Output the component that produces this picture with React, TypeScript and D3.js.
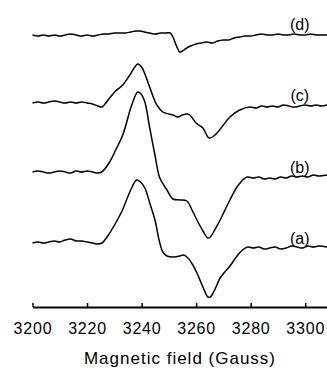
import React, { useEffect, useRef } from "react";
import * as d3 from "d3";

// EPR spectra, field in Gauss, intensity in arbitrary units relative to each baseline
const traceA: [number, number][] = [
  [3200, 0], [3202, 1], [3204, 0], [3206, 1], [3208, 2], [3210, 1], [3212, 3], [3214, 4],
  [3216, 2], [3218, 2], [3220, 1], [3222, 0], [3224, -1], [3225.5, 0], [3228.3, 10],
  [3230.5, 20], [3233, 33], [3236, 53], [3238.2, 63], [3239.6, 61], [3241.2, 55], [3243, 40],
  [3245, 22], [3246.5, 2], [3247.8, -9], [3249.3, -13], [3252, -14], [3254, -13], [3255.5, -12],
  [3257, -15], [3258.8, -22], [3260.3, -30], [3262.5, -44], [3264.3, -54], [3265.2, -54],
  [3266.8, -47], [3268.8, -35], [3270.5, -29], [3272.4, -23], [3275, -13], [3277, -7],
  [3279, -4], [3281, -5], [3283, -4], [3285, -6], [3287, -5], [3289, -4], [3291, -6],
  [3293, -5], [3295, -3], [3297, -4], [3299, -5], [3301, -3], [3303, -4], [3305, -3], [3308, -4],
];

const traceB: [number, number][] = [
  [3200, 0], [3202, 1], [3204, 0], [3206, -1], [3208, 0], [3210, 1], [3212, 0], [3214, -1],
  [3216, 1], [3218, 0], [3220, 1], [3222, 0], [3224, -1], [3225.4, 0], [3228.3, 10],
  [3230.5, 22], [3233.1, 37], [3236.4, 67], [3238.6, 80], [3239.8, 78], [3241.2, 70],
  [3243, 44], [3244.9, 17], [3246.7, -6], [3249.3, -18], [3251.5, -27], [3254, -28],
  [3256.6, -29], [3258.5, -38], [3260.3, -48], [3262.5, -59], [3264.3, -66], [3265.2, -65],
  [3267, -57], [3268.8, -48], [3272.4, -28], [3275.5, -13], [3278.7, -5], [3281, -6],
  [3283, -5], [3285, -7], [3287, -6], [3289, -7], [3291, -5], [3293, -6], [3295, -4],
  [3297, -5], [3299, -4], [3301, -5], [3303, -3], [3305, -4], [3308, -3],
];

const traceC: [number, number][] = [
  [3200, 0], [3202, 1], [3204, 0], [3206, 1], [3208, 2], [3210, 1], [3212, 0], [3214, 1],
  [3216, 0], [3218, 1], [3220, 0], [3222, -1], [3224, -3], [3225.4, -4], [3228.3, 5],
  [3230.5, 12], [3233.1, 18], [3235.7, 28], [3238.6, 39], [3240, 36], [3242.3, 21], [3244, 8],
  [3245.6, -2], [3247.8, -9], [3250, -11], [3251.5, -12], [3253.3, -14], [3255, -12],
  [3256.6, -11], [3257.7, -12], [3260, -20], [3262.5, -25], [3264.3, -34], [3265.1, -35],
  [3266.5, -33], [3268, -29], [3270, -22], [3272.4, -14], [3276, -7], [3279.8, -4],
  [3282, -5], [3284, -3], [3286, -4], [3288, -3], [3290, -4], [3292, -2], [3294, -3],
  [3296, -4], [3298, -3], [3300, -2], [3302, -3], [3304, -2], [3306, -3], [3308, -2],
];

const traceD: [number, number][] = [
  [3200, 0], [3202, -1], [3204, 0], [3206, -1], [3208, 0], [3210, -1], [3212, 0], [3214, 1],
  [3216, 0], [3218, -1], [3220, 0], [3222, -1], [3224, 0], [3226, 1], [3228, 1], [3230, 2],
  [3232, 2], [3234, 2], [3236, 3], [3238, 4], [3239.5, 4], [3241, 3], [3243, 2], [3245, 1],
  [3247, 2], [3249, 2], [3250.5, 2], [3251.5, -2], [3252.5, -9], [3253.3, -14], [3254, -17],
  [3255, -16], [3256, -14], [3258, -11], [3260, -9], [3262, -8], [3264, -7], [3266, -8],
  [3268, -6], [3270, -5], [3272, -5], [3274, -3], [3276, -2], [3278, -1], [3280, -1],
  [3282, 0], [3284, 1], [3286, 0], [3288, 0], [3290, 1], [3292, 0], [3294, 0], [3296, 1],
  [3298, 0], [3300, 0], [3302, 1], [3304, 0], [3306, 0], [3308, 0],
];

const traces = [traceA, traceB, traceC, traceD];
const traceLabels = ["(a)", "(b)", "(c)", "(d)"];
// vertical stacking offset of each spectrum
const traceOffsets = [64, 135, 204, 272];
const fieldTicks = [3200, 3220, 3240, 3260, 3280, 3300];

const App = () => {
  const svgRef = useRef<SVGSVGElement>(null);

  useEffect(() => {
    const svg = d3.select(svgRef.current);
    svg.selectAll("*").remove();

    const axisY = 307;
    const font = "'Liberation Sans', Arial, sans-serif";

    const x = d3.scaleLinear().domain([3200, 3308]).range([32.5, 327]);
    const y = d3.scaleLinear().domain([0, axisY]).range([axisY, 0]);

    // x axis, ticks pointing up
    const axis = svg
      .append("g")
      .attr("transform", `translate(0,${axisY})`)
      .call(
        d3
          .axisBottom(x)
          .tickValues(fieldTicks)
          .tickFormat(d3.format("d"))
          .tickSizeInner(-4)
          .tickSizeOuter(0)
          .tickPadding(16)
      );
    axis.select(".domain").attr("stroke", "#000").attr("stroke-width", 2.2);
    axis.selectAll(".tick line").attr("stroke", "#000").attr("stroke-width", 1.5);
    axis
      .selectAll(".tick text")
      .attr("fill", "#000")
      .style("font-family", font)
      .style("font-size", "16px")
      .style("letter-spacing", "0.8px");

    svg
      .append("text")
      .attr("x", 180)
      .attr("y", 364)
      .attr("text-anchor", "middle")
      .style("font-family", font)
      .style("font-size", "17px")
      .style("letter-spacing", "1px")
      .attr("fill", "#000")
      .text("Magnetic field (Gauss)");

    const labelLift = [5, 5, 8, 11];

    traces.forEach((tr, i) => {
      const off = traceOffsets[i];
      const line = d3
        .line<[number, number]>()
        .x((d) => x(d[0]))
        .y((d) => y(d[1] + off))
        .curve(d3.curveCatmullRom.alpha(0.5));

      svg
        .append("path")
        .datum(tr)
        .attr("d", line)
        .attr("fill", "none")
        .attr("stroke", "#000")
        .attr("stroke-width", 1.5)
        .attr("stroke-linejoin", "round");

      svg
        .append("text")
        .attr("x", x(3298))
        .attr("y", y(off + labelLift[i]))
        .attr("dy", "0.35em")
        .attr("text-anchor", "middle")
        .style("font-family", font)
        .style("font-size", "16px")
        .attr("fill", "#000")
        .text(traceLabels[i]);
    });
  }, []);

  return (
    <svg
      ref={svgRef}
      width={327}
      height={375}
      style={{ position: "absolute", left: 0, top: 0, background: "#fff" }}
    />
  );
};

export default App;
